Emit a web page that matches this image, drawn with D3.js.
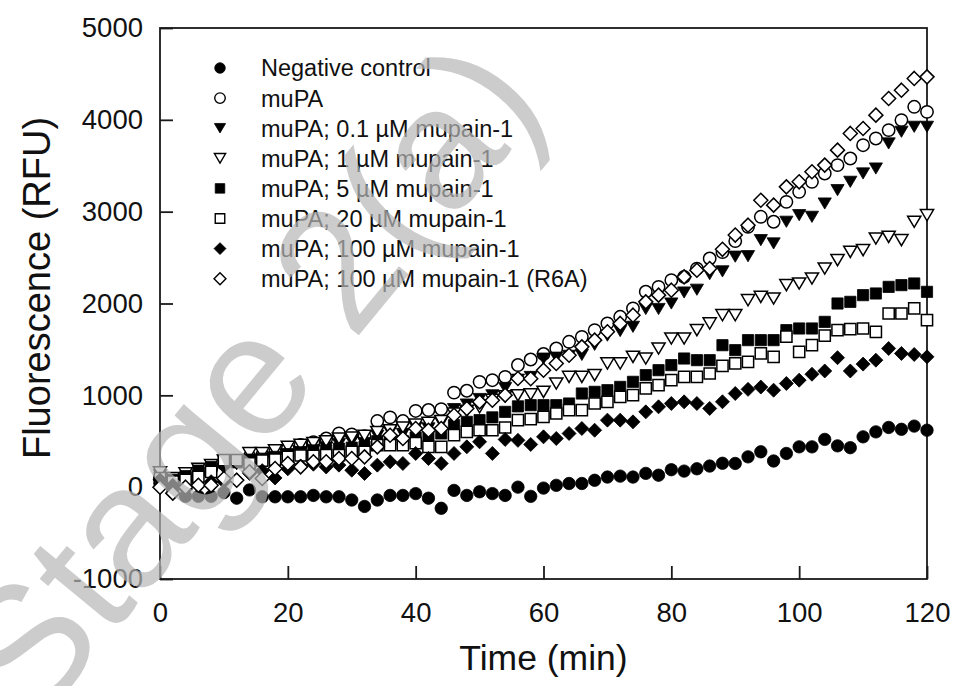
<!DOCTYPE html>
<html>
<head>
<meta charset="utf-8">
<script src="https://cdn.jsdelivr.net/npm/d3@7"></script>
<style>
  html, body { margin: 0; padding: 0; background: #fff; }
  svg { display: block; font-family: "Liberation Sans", Arial, Helvetica, sans-serif; }
</style>
</head>
<body>
<svg id="chart" width="955" height="686"></svg>
<script>
// ---------------- DATA ----------------
const times = [0,2,4,6,8,10,12,14,16,18,20,22,24,26,28,30,32,34,36,38,40,42,44,46,48,50,52,54,56,58,60,62,64,66,68,70,72,74,76,78,80,82,84,86,88,90,92,94,96,98,100,102,104,106,108,110,112,114,116,118,120];

const negativeControl = [40,-20,-100,-100,-100,-60,-120,-30,-105,-105,-105,-105,-90,-105,-105,
  -140,-210,-140,-90,-90,-70,-120,-230,-35,-90,-50,-70,-90,0,-100,
  -10,20,40,40,75,110,120,110,150,130,190,175,200,230,260,
  258,330,385,285,367,439,439,520,450,430,548,602,650,630,665,620];

const muPA = [100,80,100,150,200,250,280,330,350,380,420,460,490,530,585,
  575,555,720,760,720,830,840,850,1030,1050,1147,1165,1200,1330,1390,
  1450,1510,1583,1637,1710,1783,1855,1946,2128,2180,2254,2290,2380,2490,2560,
  2680,2835,2944,2890,3107,3216,3325,3416,3507,3579,3724,3797,3888,3997,4142,4087];

const mupain0_1 = [130,60,50,100,150,200,250,280,300,320,350,380,400,430,470,
  500,480,560,600,580,650,640,700,850,900,960,1000,1080,1170,1200,
  1400,1410,1430,1440,1550,1650,1700,1746,1940,1940,2000,2120,2150,2320,2350,
  2510,2515,2690,2654,2890,2962,2944,3089,3234,3325,3416,3470,3743,3870,3924,3924];

const mupain1 = [160,100,150,200,240,290,280,370,370,400,440,460,480,500,530,
  540,560,600,620,650,680,700,720,800,830,870,950,990,1000,1010,
  1038,1129,1201,1201,1220,1347,1347,1419,1401,1510,1619,1619,1710,1783,1873,
  1873,2036,2072,2054,2200,2218,2272,2381,2472,2563,2581,2708,2726,2690,2890,2962];

const mupain5 = [80,80,120,180,220,270,270,300,310,330,360,380,400,400,420,
  430,440,500,520,500,540,560,585,675,711,730,760,820,880,893,
  893,893,911,1020,1038,1056,1092,1147,1220,1274,1329,1401,1383,1383,1546,
  1492,1601,1601,1601,1710,1728,1728,1800,2000,2018,2091,2109,2181,2200,2218,2127];

const mupain20 = [100,60,80,112,167,294,294,260,290,300,330,345,340,350,350,
  385,385,457,457,457,480,439,439,566,602,620,620,650,730,740,
  766,802,838,838,911,929,984,1002,1075,1111,1165,1201,1201,1238,1320,
  1347,1365,1456,1419,1640,1474,1546,1650,1710,1720,1728,1692,1891,1891,1946,1819];

const mupain100 = [80,20,-20,20,60,60,80,150,180,100,200,230,250,220,240,
  185,149,240,276,258,367,312,258,367,439,494,367,520,510,465,
  548,530,585,639,620,730,730,711,820,875,911,929,911,857,930,
  1020,1065,1090,1056,1129,1165,1230,1265,1410,1265,1340,1383,1510,1456,1445,1419];

const mupain100R6A = [0,-65,0,20,20,94,76,167,94,203,258,221,276,276,312,
  312,330,439,566,530,639,620,639,784,857,929,947,1002,1183,1180,
  1274,1347,1437,1528,1601,1692,1783,1873,2018,2091,2145,2290,2363,2381,2590,
  2745,2853,3125,3071,3270,3325,3434,3507,3670,3852,3906,4051,4233,4323,4451,4468];

const seriesNames = ["Negative control","muPA","muPA; 0.1 \u00B5M mupain-1","muPA; 1 \u00B5M mupain-1",
  "muPA; 5 \u00B5M mupain-1","muPA; 20 \u00B5M mupain-1","muPA; 100 \u00B5M mupain-1","muPA; 100 \u00B5M mupain-1 (R6A)"];
const seriesValues = [negativeControl, muPA, mupain0_1, mupain1, mupain5, mupain20, mupain100, mupain100R6A];
const seriesShapes = ["circle","circle","triangleDown","triangleDown","square","square","diamond","diamond"];
const seriesFilled = [true,false,true,false,true,false,true,false];

const xTicks = [0,20,40,60,80,100,120];
const yTicks = [-1000,0,1000,2000,3000,4000,5000];
const xTitle = "Time (min)";
const yTitle = "Fluorescence (RFU)";
const watermark = "Stage 2(a)";

// ---------------- LAYOUT ----------------
const W = 955, H = 686;
const L = 160, R = 927, T = 28, B = 579;
const svg = d3.select("#chart");
svg.append("rect").attr("width", W).attr("height", H).attr("fill", "#fff");

const x = d3.scaleLinear().domain([0,120]).range([L,R]);
const y = d3.scaleLinear().domain([-1000,5000]).range([B,T]);

const axisColor = "#1a1a1a";

function symbolPath(shape, k) {
  const p = d3.path();
  if (shape === "circle") {
    const r = 6.2 * k;
    p.moveTo(r, 0); p.arc(0, 0, r, 0, 2 * Math.PI); p.closePath();
  } else if (shape === "square") {
    const h = 5.6 * k;
    p.rect(-h, -h, 2 * h, 2 * h);
  } else if (shape === "diamond") {
    const d = 7.0 * k;
    p.moveTo(0, -d); p.lineTo(d, 0); p.lineTo(0, d); p.lineTo(-d, 0); p.closePath();
  } else if (shape === "triangleDown") {
    const w = 6.6 * k, h = 5.6 * k;
    p.moveTo(-w, -h); p.lineTo(w, -h); p.lineTo(0, h); p.closePath();
  }
  return p.toString();
}

// ---------------- AXES ----------------
const gx = svg.append("g").attr("transform", `translate(0,${B})`)
  .call(d3.axisBottom(x).tickValues(xTicks).tickSizeInner(-13).tickSizeOuter(0).tickPadding(23).tickFormat(d3.format("d")));
const gy = svg.append("g").attr("transform", `translate(${L},0)`)
  .call(d3.axisLeft(y).tickValues(yTicks).tickSizeInner(-13).tickSizeOuter(0).tickPadding(17).tickFormat(d => d < 0 ? "-" + Math.abs(d) : String(d)));
[gx, gy].forEach(g => {
  g.select(".domain").remove();
  g.selectAll(".tick line").attr("stroke", axisColor).attr("stroke-width", 1.8);
  g.selectAll(".tick text").attr("fill", "#111").attr("font-size", 27.5)
    .attr("font-family", '"Liberation Sans", Arial, sans-serif');
});

svg.append("rect").attr("x", L).attr("y", T).attr("width", R - L).attr("height", B - T)
  .attr("fill", "none").attr("stroke", axisColor).attr("stroke-width", 1.8);

// axis titles
svg.append("text").attr("x", (L + R) / 2).attr("y", 670).attr("text-anchor", "middle")
  .attr("font-size", 35.5).attr("fill", "#111").text(xTitle);
svg.append("text").attr("transform", `translate(50,288) rotate(-90)`)
  .attr("text-anchor", "middle").attr("font-size", 38).attr("fill", "#111").text(yTitle);

// ---------------- DATA MARKS ----------------
const marks = svg.append("g");
seriesValues.forEach((vals, si) => {
  marks.append("g").selectAll("path").data(vals.map((v, i) => ({t: times[i], v})))
    .join("path")
    .attr("d", symbolPath(seriesShapes[si], 1))
    .attr("transform", d => `translate(${x(d.t)},${y(d.v)})`)
    .attr("fill", seriesFilled[si] ? "#000" : "#fff")
    .attr("stroke", "#000")
    .attr("stroke-width", seriesFilled[si] ? 0.8 : 1.5);
});

// ---------------- LEGEND ----------------
const leg = svg.append("g");
seriesNames.forEach((name, i) => {
  const yy = 68 + i * 30.1;
  leg.append("path").attr("d", symbolPath(seriesShapes[i], 0.85))
    .attr("transform", `translate(220,${yy})`)
    .attr("fill", seriesFilled[i] ? "#000" : "#fff")
    .attr("stroke", "#000").attr("stroke-width", seriesFilled[i] ? 0.8 : 1.4);
  leg.append("text").attr("x", 261).attr("y", yy).attr("dy", "0.36em")
    .attr("font-size", 23.5).attr("fill", "#111").text(name);
});

// ---------------- WATERMARK ----------------
svg.append("text")
  .attr("transform", "translate(35,728) rotate(-50.5)")
  .attr("font-size", 173)
  .attr("fill", "rgb(183,183,183)")
  .attr("fill-opacity", 0.7)
  .text(watermark);
</script>
</body>
</html>
